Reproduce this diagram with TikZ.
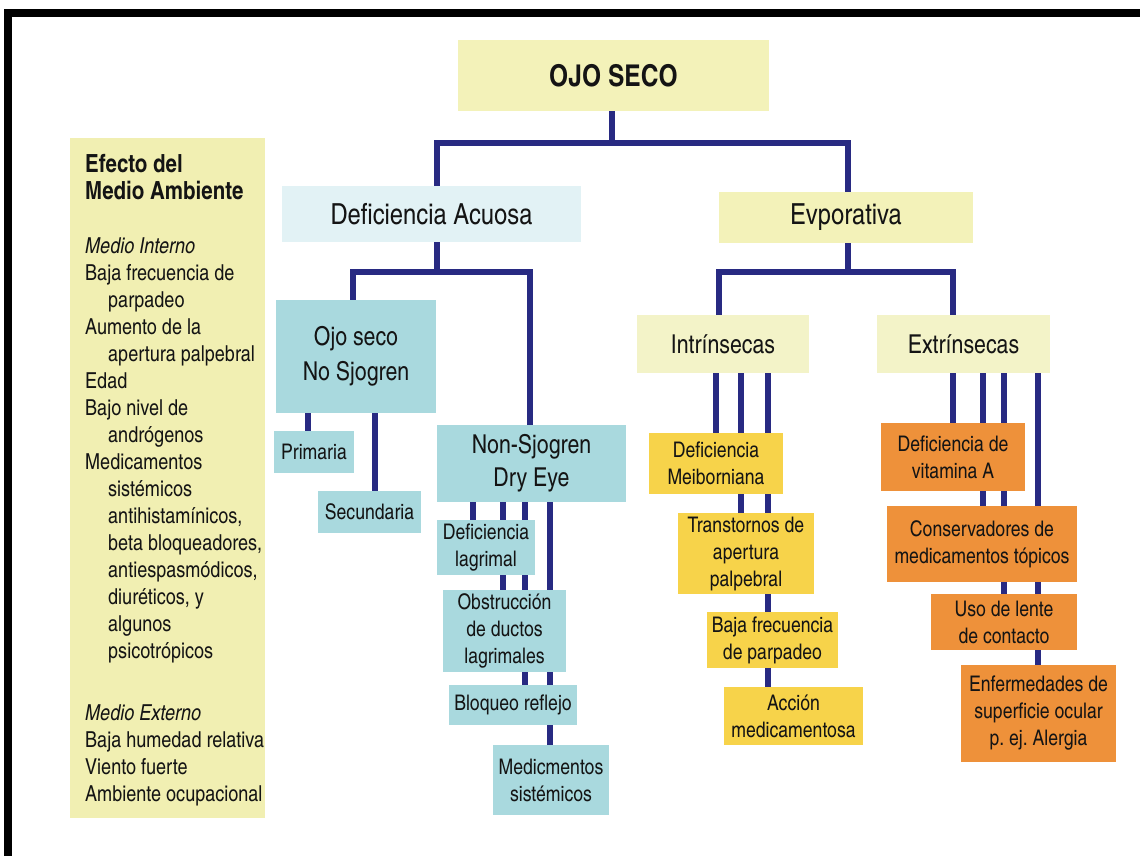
\documentclass[tikz,border=0pt]{standalone}
\usepackage{fontspec}
\setmainfont{texgyreheroscn}[Extension=.otf, UprightFont=*-regular, BoldFont=*-bold, ItalicFont=*-italic, BoldItalicFont=*-bolditalic]
\usepackage{xcolor}
\usepackage{tikz}
\usetikzlibrary{backgrounds}
\frenchspacing
\definecolor{linkcolor}{HTML}{282A82}
\definecolor{palecolor}{HTML}{F3F2B9}
\definecolor{panelcolor}{HTML}{F1EFB2}
\definecolor{cyancolor}{HTML}{E2F2F5}
\definecolor{tealcolor}{HTML}{A9D9DE}
\definecolor{subcolor}{HTML}{F3F3C8}
\definecolor{goldcolor}{HTML}{F7D34A}
\definecolor{orangecolor}{HTML}{EE913A}
\definecolor{inkcolor}{HTML}{141414}

\begin{document}
\begin{tikzpicture}[x=1pt, y=-1pt,
    bx/.style 2 args={minimum width=#1pt, minimum height=#2pt, inner sep=1pt, align=center, text=inkcolor},
    top/.style={font=\bfseries\fontsize{30}{36}\selectfont},
    lvl1/.style={font=\fontsize{29}{34}\selectfont},
    lvl2/.style={font=\fontsize{26}{35}\selectfont},
    leaf/.style={font=\fontsize{21.5}{27}\selectfont},
    link/.style={draw=linkcolor, line width=5.5pt},
  ]
  \useasboundingbox (0,0) rectangle (1140,855);
  % frame
  \draw[line width=8pt] (1160,13) -- (8,13) -- (8,860) -- (1160,860);

  % root and environment panel
  \node[bx={311}{71}, fill=palecolor, top] (ojo) at (613.5,75.5) {OJO SECO};
  \node[bx={195}{680}, fill=panelcolor] (env) at (167.5,478) {};
  \node[anchor=north west, align=left, inner sep=0pt, text=inkcolor,
        font=\fontsize{22}{27}\selectfont] (envtxt) at (85,154)
    {{\bfseries\fontsize{25}{27}\selectfont Efecto del}\\
     {\bfseries\fontsize{25}{27}\selectfont Medio Ambiente}\\[27pt]
     \textit{Medio Interno}\\
     Baja frecuencia de\\
     \hspace*{23pt}parpadeo\\
     Aumento de la\\
     \hspace*{23pt}apertura palpebral\\
     Edad\\
     Bajo nivel de\\
     \hspace*{23pt}andrógenos\\
     Medicamentos\\
     \hspace*{23pt}sistémicos\\
     \hspace*{23pt}antihistamínicos,\\
     \hspace*{23pt}beta bloqueadores,\\
     \hspace*{23pt}antiespasmódicos,\\
     \hspace*{23pt}diuréticos, y\\
     \hspace*{23pt}algunos\\
     \hspace*{23pt}psicotrópicos\\[35pt]
     \textit{Medio Externo}\\
     Baja humedad relativa\\
     Viento fuerte\\
     Ambiente ocupacional};

  % main branches
  \node[bx={299}{56}, fill=cyancolor, lvl1] (acuosa) at (431.5,214) {Deficiencia Acuosa};
  \node[bx={254}{51}, fill=palecolor, lvl1] (evap) at (846,217.5) {Evporativa};

  % aqueous deficiency
  \node[bx={160}{113}, fill=tealcolor, lvl2] (nosj) at (356,356.5) {Ojo seco\\No Sjogren};
  \node[bx={80}{42}, fill=tealcolor, leaf] (prim) at (314,452) {Primaria};
  \node[bx={103}{42}, fill=tealcolor, leaf] (secu) at (369.5,512) {Secundaria};
  \node[bx={189}{77}, fill=tealcolor, lvl2, font=\fontsize{26}{33}\selectfont] (nsde) at (531.5,463.5) {Non-Sjogren\\Dry Eye};
  \node[bx={98}{55}, fill=tealcolor, leaf] (deflag) at (486,547.5) {Deficiencia\\lagrimal};
  \node[bx={123}{82}, fill=tealcolor, leaf] (obst) at (504.5,631) {Obstrucción\\de ductos\\lagrimales};
  \node[bx={128}{40}, fill=tealcolor, leaf] (bloq) at (513,705) {Bloqueo reflejo};
  \node[bx={116}{70}, fill=tealcolor, leaf] (medsis) at (551,780) {Medicmentos\\sistémicos};

  % evaporative
  \node[bx={172}{58}, fill=subcolor, lvl2] (intr) at (723,344) {Intrínsecas};
  \node[bx={173}{58}, fill=subcolor, lvl2] (extr) at (963.5,344) {Extrínsecas};
  \node[bx={134}{61}, fill=goldcolor, leaf] (meib) at (716,463.5) {Deficiencia\\Meiborniana};
  \node[bx={136}{81}, fill=goldcolor, leaf] (trans) at (746,553.5) {Transtornos de\\apertura\\palpebral};
  \node[bx={131}{56}, fill=goldcolor, leaf] (bajaf) at (772.5,640) {Baja frecuencia\\de parpadeo};
  \node[bx={139}{58}, fill=goldcolor, leaf] (accion) at (793.5,716) {Acción\\medicamentosa};
  \node[bx={144}{68}, fill=orangecolor, leaf] (vita) at (953,457) {Deficiencia de\\vitamina A};
  \node[bx={190}{76}, fill=orangecolor, leaf] (cons) at (982,544) {Conservadores de\\medicamentos tópicos};
  \node[bx={146}{56}, fill=orangecolor, leaf] (uso) at (1004,622) {Uso de lente\\de contacto};
  \node[bx={155}{97}, fill=orangecolor, leaf] (enf) at (1038.5,713.5) {Enfermedades de\\superficie ocular\\p. ej. Alergia};

  % connector columns and forks
  \coordinate (forkA) at (612,143);
  \coordinate (forkB) at (437,272);
  \coordinate (forkC) at (848,272);
  \path (437,0) coordinate (xacu) (848,0) coordinate (xevp)
        (353,0) coordinate (xnosj) (530,0) coordinate (xnsde)
        (719,0) coordinate (xintr) (953,0) coordinate (xextr)
        (308,0) coordinate (xprim) (375,0) coordinate (xsecu)
        (473,0) coordinate (xdl) (503,0) coordinate (xob) (525,0) coordinate (xbl) (550,0) coordinate (xms)
        (716,0) coordinate (xme) (741,0) coordinate (xtr) (768,0) coordinate (xac)
        (953,0) coordinate (xva) (983,0) coordinate (xco) (1004,0) coordinate (xus) (1038,0) coordinate (xen);

  \begin{scope}[on background layer]
    \draw[link] (ojo.south -| forkA) -- (forkA);
    \draw[link] (acuosa.north -| xacu) |- (forkA) -| (evap.north -| xevp);
    \draw[link] (acuosa.south -| xacu) -- (forkB);
    \draw[link] (nosj.north -| xnosj) |- (forkB) -| (nsde.north -| xnsde);
    \draw[link] (evap.south -| xevp) -- (forkC);
    \draw[link] (intr.north -| xintr) |- (forkC) -| (extr.north -| xextr);
    \draw[link] (nosj.south -| xprim) -- (prim.north -| xprim);
    \draw[link] (nosj.south -| xsecu) -- (secu.north -| xsecu);
    \draw[link] (nsde.south -| xdl) -- (deflag.north -| xdl);
    \draw[link] (nsde.south -| xob) -- (obst.north -| xob);
    \draw[link] (nsde.south -| xbl) -- (bloq.north -| xbl);
    \draw[link] (nsde.south -| xms) -- (medsis.north -| xms);
    \draw[link] (intr.south -| xme) -- (meib.north -| xme);
    \draw[link] (intr.south -| xtr) -- (trans.north -| xtr);
    \draw[link] (intr.south -| xac) -- (accion.north -| xac);
    \draw[link] (extr.south -| xva) -- (vita.north -| xva);
    \draw[link] (extr.south -| xco) -- (cons.north -| xco);
    \draw[link] (extr.south -| xus) -- (uso.north -| xus);
    \draw[link] (extr.south -| xen) -- (enf.north -| xen);
  \end{scope}
\end{tikzpicture}
\end{document}
